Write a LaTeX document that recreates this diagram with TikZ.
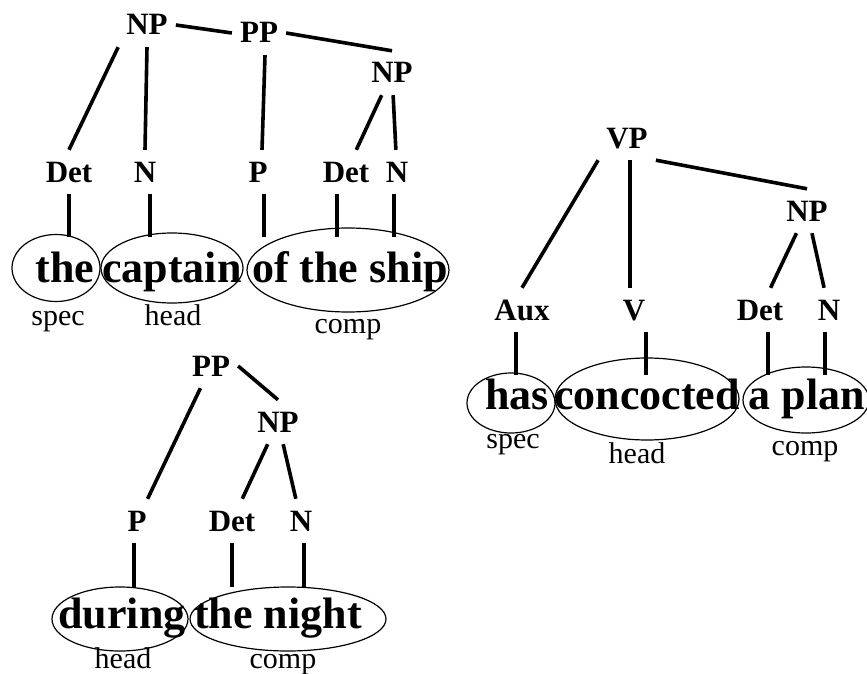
\documentclass[tikz,border=0pt]{standalone}
\usepackage{fontspec}
\setmainfont{Liberation Serif}
\usetikzlibrary{shapes.geometric}
\begin{document}
\begin{tikzpicture}[x=1pt,y=-1pt,
  cat/.style={font=\fontsize{31}{36}\selectfont\bfseries,inner xsep=8pt,inner ysep=12pt,text height=20pt,text depth=0pt},
  word/.style={font=\fontsize{44}{50}\selectfont\bfseries,inner sep=0pt,text height=30pt,text depth=0pt},
  role/.style={font=\fontsize{30}{36}\selectfont,inner sep=0pt,anchor=base},
  bubble/.style={draw,ellipse,line width=1.2pt,inner sep=0pt},
  edge/.style={line width=3.6pt}]
\useasboundingbox (0,0) rectangle (867,674);
% the captain of the ship
\node (np1) at (147,25) [cat] {NP};
\node (pp1) at (259,33) [cat] {PP};
\node (np2) at (392,73) [cat] {NP};
\node (det1) at (69,172) [cat] {Det};
\node (n1) at (145,172) [cat] {N};
\node (p1) at (258,172) [cat] {P};
\node (det2) at (346,172) [cat] {Det};
\node (n2) at (397,172) [cat] {N};
\node (e-the) at (56,268) [bubble,minimum width=88,minimum height=67] {};
\node (e-capt) at (172,268) [bubble,minimum width=142,minimum height=70] {};
\node (e-ship) at (348,270) [bubble,minimum width=202,minimum height=84] {};
\node (the) at (65,267) [word] {the};
\node (capt) at (172,267) [word] {captain};
\node (ship) at (350,267) [word] {of the ship};
\node (spec1) at (58,325) [role] {spec};
\node (head1) at (173,325) [role] {head};
\node (comp1) at (348,333) [role] {comp};
\coordinate (foot1) at (0,237);
\draw[edge] (np1.east) -- (pp1.west);
\draw[edge] (pp1.east) -- (np2.north);
\draw[edge] (np1.south west) -- (det1.north);
\draw[edge] (np1.south) -- (n1.north);
\draw[edge] ([xshift=6pt]pp1.south) -- ([xshift=4pt]p1.north);
\draw[edge] (np2) -- (det2);
\draw[edge] (np2) -- (n2);
\draw[edge] (det1) -- (det1 |- foot1);
\draw[edge] ([xshift=5pt]n1.south) -- ([xshift=5pt]n1.south |- foot1);
\draw[edge] ([xshift=6pt]p1.south) -- ([xshift=6pt]p1.south |- foot1);
\draw[edge] ([xshift=-9pt]det2.south) -- ([xshift=-9pt]det2.south |- foot1);
\draw[edge] ([xshift=-3pt]n2.south) -- ([xshift=-3pt]n2.south |- foot1);
% has concocted a plan
\node (vp) at (627,138) [cat] {VP};
\node (np3) at (807,211) [cat] {NP};
\node (aux) at (522,310) [cat] {Aux};
\node (v) at (634,310) [cat] {V};
\node (det3) at (760,310) [cat] {Det};
\node (n3) at (829,310) [cat] {N};
\node (e-has) at (511,403) [bubble,minimum width=88,minimum height=60] {};
\node (e-conc) at (647,399) [bubble,minimum width=184,minimum height=82] {};
\node (e-plan) at (806,400) [bubble,minimum width=126,minimum height=66] {};
\node (has) at (517,394) [word] {has};
\node (conc) at (647,394) [word] {concocted};
\node (plan) at (807,394) [word] {a plan};
\node (spec2) at (513,448) [role] {spec};
\node (head2) at (637,463) [role] {head};
\node (comp2) at (805,455) [role] {comp};
\coordinate (foot2) at (0,375);
\draw[edge] (vp.south west) -- (aux.north);
\draw[edge] ([xshift=3pt]vp.south) -- ([xshift=-4pt]v.north);
\draw[edge] (vp.south east) -- (np3.north);
\draw[edge] (np3) -- (det3);
\draw[edge] (np3) -- (n3);
\draw[edge] ([xshift=-6pt]aux.south) -- ([xshift=-6pt]aux.south |- foot2);
\draw[edge] ([xshift=12pt]v.south) -- ([xshift=12pt]v.south |- foot2);
\draw[edge] ([xshift=8pt]det3.south) -- ([xshift=8pt]det3.south |- foot2);
\draw[edge] ([xshift=-4pt]n3.south) -- ([xshift=-4pt]n3.south |- foot2);
% during the night
\node (pp2) at (211,366) [cat] {PP};
\node (np4) at (278,422) [cat] {NP};
\node (p2) at (137,521) [cat] {P};
\node (det4) at (232,521) [cat] {Det};
\node (n4) at (301,521) [cat] {N};
\node (e-dur) at (120,619) [bubble,minimum width=136,minimum height=64] {};
\node (e-night) at (288,619) [bubble,minimum width=196,minimum height=64] {};
\node (dur) at (122,613) [word] {during};
\node (night) at (278,613) [word] {the night};
\node (head3) at (123,668) [role] {head};
\node (comp3) at (283,668) [role] {comp};
\coordinate (foot3) at (0,587);
\draw[edge] (pp2) -- (p2);
\draw[edge] (pp2.east) -- (np4.north);
\draw[edge] (np4) -- (det4);
\draw[edge] (np4) -- (n4);
\draw[edge] ([xshift=-3pt]p2.south) -- ([xshift=-3pt]p2.south |- foot3);
\draw[edge] (det4) -- (det4 |- foot3);
\draw[edge] ([xshift=3pt]n4.south) -- ([xshift=3pt]n4.south |- foot3);
\end{tikzpicture}
\end{document}
